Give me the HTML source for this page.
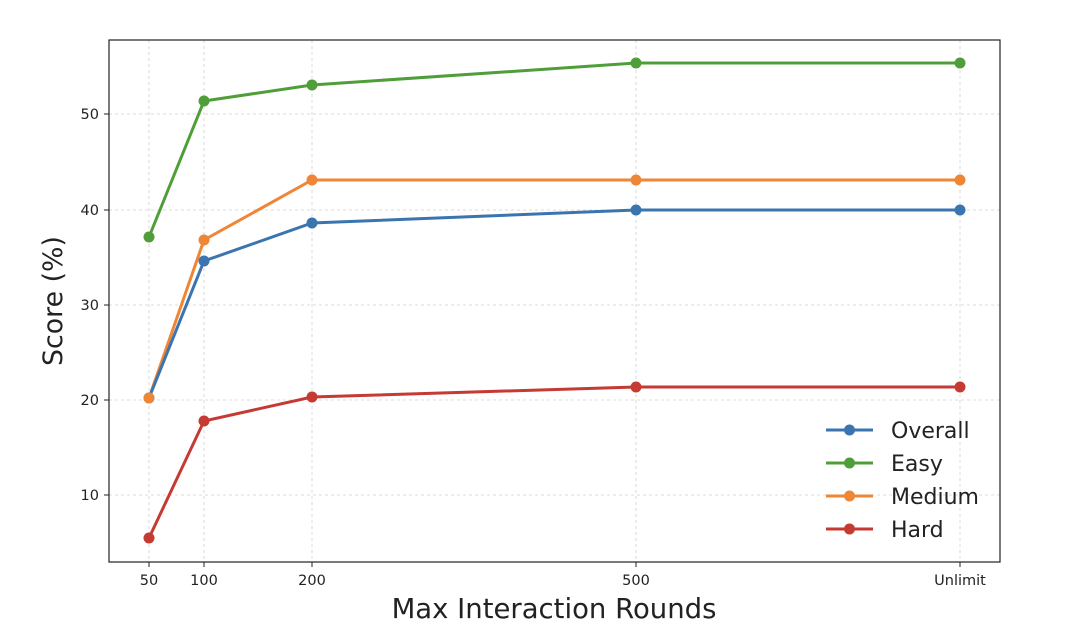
<!DOCTYPE html>
<html><head><meta charset="utf-8"><style>html,body{margin:0;padding:0;background:#fff}svg{display:block}</style></head>
<body>
<svg width="1080" height="636" viewBox="0 0 1080 636" xmlns="http://www.w3.org/2000/svg" font-family="DejaVu Sans, Liberation Sans, sans-serif">
<rect width="1080" height="636" fill="#fff"/>
<g stroke="#d0d0d0" stroke-width="0.8" stroke-dasharray="3,3">
<line x1="149" y1="40" x2="149" y2="562"/><line x1="204" y1="40" x2="204" y2="562"/><line x1="312" y1="40" x2="312" y2="562"/><line x1="636" y1="40" x2="636" y2="562"/><line x1="960" y1="40" x2="960" y2="562"/>
<line x1="109" y1="495" x2="1000" y2="495"/><line x1="109" y1="400" x2="1000" y2="400"/><line x1="109" y1="305" x2="1000" y2="305"/><line x1="109" y1="210" x2="1000" y2="210"/><line x1="109" y1="114" x2="1000" y2="114"/>
</g>
<rect x="109" y="40" width="891" height="522" fill="none" stroke="#222" stroke-width="1.2"/>
<g stroke="#222" stroke-width="1">
<line x1="149" y1="562" x2="149" y2="567"/><line x1="204" y1="562" x2="204" y2="567"/><line x1="312" y1="562" x2="312" y2="567"/><line x1="636" y1="562" x2="636" y2="567"/><line x1="960" y1="562" x2="960" y2="567"/>
<line x1="104" y1="495" x2="109" y2="495"/><line x1="104" y1="400" x2="109" y2="400"/><line x1="104" y1="305" x2="109" y2="305"/><line x1="104" y1="210" x2="109" y2="210"/><line x1="104" y1="114" x2="109" y2="114"/>
</g>
<g font-size="14.5" fill="#222" text-anchor="middle">
<text x="149" y="585">50</text><text x="204" y="585">100</text><text x="312" y="585">200</text><text x="636" y="585">500</text><text x="960" y="585">Unlimit</text>
</g>
<g font-size="14.5" fill="#222" text-anchor="end">
<text x="99" y="500">10</text><text x="99" y="405">20</text><text x="99" y="310">30</text><text x="99" y="215">40</text><text x="99" y="119">50</text>
</g>
<text x="554" y="618" font-size="27.5" fill="#222" text-anchor="middle">Max Interaction Rounds</text>
<text transform="translate(62,301) rotate(-90)" font-size="26.8" fill="#222" text-anchor="middle">Score (%)</text>
<g stroke-width="3" fill="none">
<polyline stroke="#4f9e3a" points="149,237 204,101 312,85 636,63 960,63"/>
<polyline stroke="#ef8636" points="149,398 204,240 312,180 636,180 960,180"/>
<polyline stroke="#3b75af" points="149,398 204,261 312,223 636,210 960,210"/>
<polyline stroke="#c53a32" points="149,538 204,421 312,397 636,387 960,387"/>
</g>
<g fill="#4f9e3a"><circle cx="149" cy="237" r="5.5"/><circle cx="204" cy="101" r="5.5"/><circle cx="312" cy="85" r="5.5"/><circle cx="636" cy="63" r="5.5"/><circle cx="960" cy="63" r="5.5"/></g>
<g fill="#3b75af"><circle cx="149" cy="398" r="5.5"/><circle cx="204" cy="261" r="5.5"/><circle cx="312" cy="223" r="5.5"/><circle cx="636" cy="210" r="5.5"/><circle cx="960" cy="210" r="5.5"/></g>
<g fill="#ef8636"><circle cx="149" cy="398" r="5.5"/><circle cx="204" cy="240" r="5.5"/><circle cx="312" cy="180" r="5.5"/><circle cx="636" cy="180" r="5.5"/><circle cx="960" cy="180" r="5.5"/></g>
<g fill="#c53a32"><circle cx="149" cy="538" r="5.5"/><circle cx="204" cy="421" r="5.5"/><circle cx="312" cy="397" r="5.5"/><circle cx="636" cy="387" r="5.5"/><circle cx="960" cy="387" r="5.5"/></g>
<g stroke-width="3">
<line x1="826" y1="430" x2="873" y2="430" stroke="#3b75af"/><circle cx="849.5" cy="430" r="5.5" fill="#3b75af"/>
<line x1="826" y1="463" x2="873" y2="463" stroke="#4f9e3a"/><circle cx="849.5" cy="463" r="5.5" fill="#4f9e3a"/>
<line x1="826" y1="496" x2="873" y2="496" stroke="#ef8636"/><circle cx="849.5" cy="496" r="5.5" fill="#ef8636"/>
<line x1="826" y1="529" x2="873" y2="529" stroke="#c53a32"/><circle cx="849.5" cy="529" r="5.5" fill="#c53a32"/>
</g>
<g font-size="22" fill="#222">
<text x="891" y="438">Overall</text><text x="891" y="471">Easy</text><text x="891" y="504">Medium</text><text x="891" y="537">Hard</text>
</g>
</svg>
</body></html>
